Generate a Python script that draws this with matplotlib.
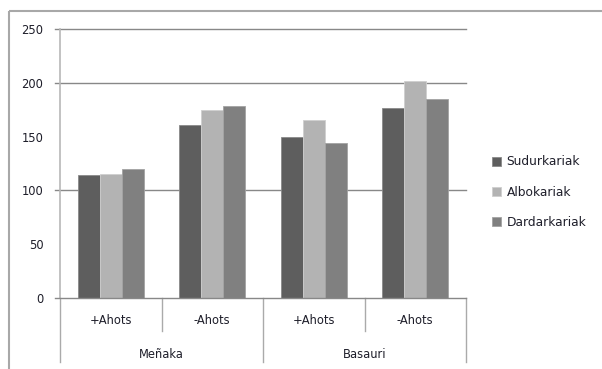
import matplotlib
matplotlib.use("Agg")
import matplotlib.pyplot as plt
from matplotlib.transforms import blended_transform_factory
import numpy as np

plt.rcParams['font.family'] = ['DejaVu Sans']

categories = ['+Ahots', '-Ahots', '+Ahots', '-Ahots']
groups = ['Meñaka', 'Basauri']
series_names = ['Sudurkariak', 'Albokariak', 'Dardarkariak']
sudurkariak = [114, 161, 150, 177]
albokariak = [115, 175, 165, 202]
dardarkariak = [120, 178, 144, 185]
yticks = [0, 50, 100, 150, 200, 250]
gridded = [100, 200, 250]

colors = ['#5e5e5e', '#b3b3b3', '#808080']
edges = ['#8a8a8a', '#cfcfcf', '#a3a3a3']
text_color = '#1e1e2a'
fs = 8.3

W, H = 602, 369
fig = plt.figure(figsize=(W / 100, H / 100), dpi=100)
fig.patch.set_facecolor('white')

# outer chart frame (top and left edges only)
fig.add_artist(plt.Line2D([9 / W, 9 / W], [0, 1 - 11 / H], color='#a8a8a8', lw=1.5,
                          solid_capstyle='butt'))
fig.add_artist(plt.Line2D([9 / W, 1], [1 - 11 / H, 1 - 11 / H], color='#a8a8a8', lw=1.5,
                          solid_capstyle='butt'))

left, right, bottom, top = 60 / W, 466 / W, 1 - 298 / H, 1 - 29 / H
ax = fig.add_axes([left, bottom, right - left, top - bottom])

x = np.arange(len(categories))
bw = 0.218
series = [sudurkariak, albokariak, dardarkariak]
for j, (vals, name) in enumerate(zip(series, series_names)):
    ax.bar(x + (j - 1) * bw, vals, width=bw, color=colors[j], edgecolor=edges[j],
           linewidth=0.6, label=name, zorder=3)

ax.set_xlim(-0.5, len(categories) - 0.5)
ax.set_ylim(0, 250)

ax_w_px = (right - left) * W
for v in gridded:
    ax.axhline(v, xmin=-5 / ax_w_px, xmax=1, color='#888888', lw=1, zorder=1, clip_on=False)
ax.axhline(0, xmin=-5 / ax_w_px, xmax=1, color='#888888', lw=1, zorder=4, clip_on=False)

for s in ['top', 'right', 'bottom']:
    ax.spines[s].set_visible(False)
ax.spines['left'].set_color('#b8b8b8')
ax.spines['left'].set_linewidth(1.2)

ax.set_yticks(yticks)
ax.set_yticklabels([str(t) for t in yticks])
ax.tick_params(axis='y', length=0, pad=12, labelsize=fs, labelcolor=text_color)
ax.set_xticks([])

ax_h_px = (top - bottom) * H
trans = blended_transform_factory(ax.transData, ax.transAxes)
inner = -33 / ax_h_px
outer = -64 / ax_h_px
# category separators
for b in [0.5, 2.5]:
    ax.plot([b, b], [0, inner], transform=trans, color='#aaaaaa', lw=1, clip_on=False)
for b in [-0.5, 1.5, 3.5]:
    ax.plot([b, b], [0, outer], transform=trans, color='#aaaaaa', lw=1, clip_on=False)

for xi, c in zip(x, categories):
    ax.text(xi, -23 / ax_h_px, c, transform=trans, ha='center', va='center',
            fontsize=fs, color=text_color)
for gi, g in enumerate(groups):
    ax.text(gi * 2 + 0.5, -56 / ax_h_px, g, transform=trans, ha='center', va='center',
            fontsize=fs, color=text_color)

leg = ax.legend(loc='center left', bbox_to_anchor=(492 / W, 1 - 192 / H),
                bbox_transform=fig.transFigure, frameon=False, fontsize=8.8,
                handlelength=0.75, handleheight=0.75, handletextpad=0.45,
                labelspacing=1.4, borderpad=0, borderaxespad=0)
for t in leg.get_texts():
    t.set_color(text_color)

fig.savefig('out.png', dpi=100)
